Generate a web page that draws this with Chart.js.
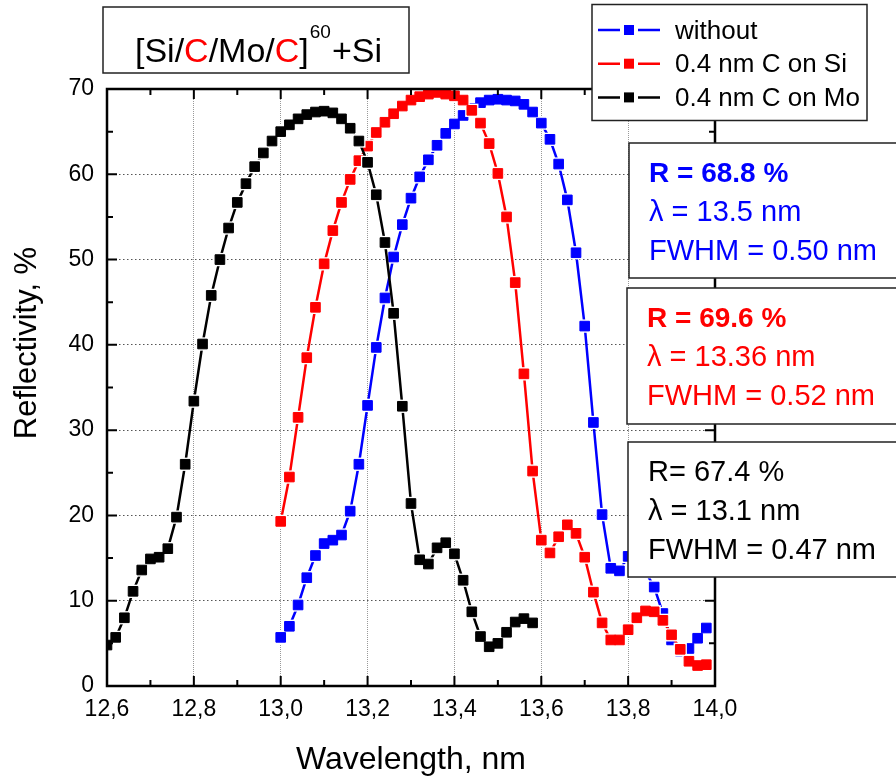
<!DOCTYPE html>
<html>
<head>
<meta charset="utf-8">
<script src="https://cdn.jsdelivr.net/npm/chart.js@4.4.1/dist/chart.umd.min.js"></script>
<style>
  html, body { margin: 0; padding: 0; background: #fff; }
  canvas { display: block; }
</style>
</head>
<body>
<canvas id="chart" width="896" height="780"></canvas>
<script>
// Wavelength grids, nm
const wlSi = [
  13.00, 13.02, 13.04, 13.06, 13.08, 13.10, 13.12, 13.14, 13.16, 13.18,
  13.20, 13.22, 13.24, 13.26, 13.28, 13.30, 13.32, 13.34, 13.36, 13.38,
  13.40, 13.42, 13.44, 13.46, 13.48, 13.50, 13.52, 13.54, 13.56, 13.58,
  13.60, 13.62, 13.64, 13.66, 13.68, 13.70, 13.72, 13.74, 13.76, 13.78,
  13.80, 13.82, 13.84, 13.86, 13.88, 13.90, 13.92, 13.94, 13.96, 13.98,
];
const wlMo = [
  12.60, 12.62, 12.64, 12.66, 12.68, 12.70, 12.72, 12.74, 12.76, 12.78,
  12.80, 12.82, 12.84, 12.86, 12.88, 12.90, 12.92, 12.94, 12.96, 12.98,
  13.00, 13.02, 13.04, 13.06, 13.08, 13.10, 13.12, 13.14, 13.16, 13.18,
  13.20, 13.22, 13.24, 13.26, 13.28, 13.30, 13.32, 13.34, 13.36, 13.38,
  13.40, 13.42, 13.44, 13.46, 13.48, 13.50, 13.52, 13.54, 13.56, 13.58,
];

// Reflectivity, %
const rWithout = [
  5.7, 7.0, 9.5, 12.7, 15.3, 16.7, 17.1, 17.7, 20.5, 26.0,
  32.9, 39.7, 45.5, 50.3, 54.1, 57.2, 59.7, 61.7, 63.4, 64.8,
  65.9, 66.9, 67.7, 68.4, 68.7, 68.8, 68.7, 68.6, 68.2, 67.3,
  66.0, 64.1, 61.2, 57.0, 50.8, 42.2, 30.9, 20.1, 13.8, 13.5,
  15.2, 14.6, 13.4, 11.6, 8.5, 5.4, 4.1, 4.4, 5.6, 6.8,
];
const rCOnSi = [
  19.3, 24.5, 31.5, 38.5, 44.4, 49.5, 53.4, 56.7, 59.4, 61.6,
  63.3, 64.9, 66.1, 67.1, 68.0, 68.7, 69.1, 69.4, 69.6, 69.4,
  69.2, 68.7, 67.5, 66.0, 63.6, 60.1, 55.0, 47.3, 36.6, 25.2,
  17.1, 15.6, 17.5, 18.9, 17.9, 15.1, 11.0, 7.4, 5.4, 5.4,
  6.6, 8.0, 8.8, 8.7, 7.7, 6.0, 4.3, 2.9, 2.4, 2.5,
];
const rCOnMo = [
  4.8, 5.7, 8.0, 11.1, 13.6, 14.9, 15.1, 16.1, 19.8, 26.0,
  33.4, 40.1, 45.8, 50.0, 53.7, 56.7, 58.9, 60.9, 62.5, 63.9,
  65.0, 65.8, 66.5, 67.0, 67.3, 67.4, 67.2, 66.5, 65.4, 63.9,
  61.4, 57.6, 52.0, 43.7, 32.8, 21.4, 14.8, 14.3, 16.2, 16.8,
  15.5, 12.4, 8.7, 5.8, 4.6, 5.0, 6.3, 7.5, 7.9, 7.4,
];

const BLUE = '#0000ff', RED = '#ff0000', BLACK = '#000000';
const FONT = '"Liberation Sans", Arial, sans-serif';

const series = [
  { name: 'without',        color: BLUE,  x: wlSi, y: rWithout },
  { name: '0.4 nm C on Si', color: RED,   x: wlSi, y: rCOnSi },
  { name: '0.4 nm C on Mo', color: BLACK, x: wlMo, y: rCOnMo },
];

// peak summaries shown in the boxes on the right
const stats = [
  { color: BLUE,  bold: true,  box: [629, 143, 270, 135], lines: ['R = 68.8 %', 'λ = 13.5 nm',  'FWHM = 0.50 nm'] },
  { color: RED,   bold: true,  box: [627, 288, 272, 136], lines: ['R = 69.6 %', 'λ = 13.36 nm', 'FWHM = 0.52 nm'] },
  { color: BLACK, bold: false, box: [628, 442, 271, 135], lines: ['R= 67.4 %',  'λ = 13.1 nm',  'FWHM = 0.47 nm'] },
];

// each curve = line, white halo (gap round the symbols), square symbols
const datasets = [];
series.forEach((s, i) => {
  const pts = s.x.map((x, k) => ({ x, y: s.y[k] }));
  const base = (series.length - 1 - i) * 3;
  datasets.push({ data: pts, order: base + 2, borderColor: s.color, borderWidth: 2.5, pointRadius: 0, fill: false });
  datasets.push({ data: pts, order: base + 1, showLine: false, pointStyle: 'rect', pointRadius: 9.4,
                  pointBackgroundColor: '#fff', pointBorderWidth: 0 });
  datasets.push({ data: pts, order: base, showLine: false, pointStyle: 'rect', pointRadius: 6.8,
                  pointBackgroundColor: s.color, pointBorderColor: s.color, pointBorderWidth: 1 });
});

function box(ctx, x, y, w, h) {
  ctx.fillStyle = '#fff';
  ctx.fillRect(x, y, w, h);
  ctx.strokeStyle = '#222';
  ctx.lineWidth = 1.5;
  ctx.strokeRect(x, y, w, h);
}

// closed frame with inward major/minor ticks on all four sides
const frame = {
  id: 'frame',
  afterDatasetsDraw(chart) {
    const { ctx, chartArea: a, scales: { x, y } } = chart;
    ctx.save();
    ctx.strokeStyle = '#000';
    ctx.lineWidth = 2;
    ctx.beginPath();
    const xv = x.ticks.map(t => t.value), yv = y.ticks.map(t => t.value);
    const xTick = (v, len) => {
      const p = x.getPixelForValue(v);
      ctx.moveTo(p, a.bottom); ctx.lineTo(p, a.bottom - len);
      ctx.moveTo(p, a.top); ctx.lineTo(p, a.top + len);
    };
    const yTick = (v, len) => {
      const p = y.getPixelForValue(v);
      ctx.moveTo(a.left, p); ctx.lineTo(a.left + len, p);
      ctx.moveTo(a.right, p); ctx.lineTo(a.right - len, p);
    };
    xv.forEach((v, i) => { xTick(v, 10); if (i < xv.length - 1) xTick((v + xv[i + 1]) / 2, 6); });
    yv.forEach((v, i) => { yTick(v, 10); if (i < yv.length - 1) yTick((v + yv[i + 1]) / 2, 6); });
    ctx.stroke();
    ctx.lineWidth = 2.5;
    ctx.strokeRect(a.left, a.top, a.right - a.left, a.bottom - a.top);
    ctx.restore();
  },
};

// title, legend, peak boxes and the y axis title
const overlays = {
  id: 'overlays',
  afterDraw(chart) {
    const ctx = chart.ctx;
    ctx.save();

    ctx.save();
    ctx.translate(27, 343);
    ctx.rotate(-Math.PI / 2);
    ctx.font = `31px ${FONT}`;
    ctx.fillStyle = '#000';
    ctx.textAlign = 'center';
    ctx.textBaseline = 'middle';
    ctx.fillText('Reflectivity, %', 0, 0);
    ctx.restore();

    ctx.textAlign = 'left';
    ctx.textBaseline = 'alphabetic';

    // structure title
    box(ctx, 103, 7, 306, 66);
    let tx = 135;
    ctx.font = `34px ${FONT}`;
    for (const [t, c] of [['[Si/', BLACK], ['C', RED], ['/Mo/', BLACK], ['C', RED], [']', BLACK]]) {
      ctx.fillStyle = c;
      ctx.fillText(t, tx, 62);
      tx += ctx.measureText(t).width;
    }
    ctx.fillStyle = BLACK;
    ctx.font = `19px ${FONT}`;
    ctx.fillText('60', tx + 1, 38);
    tx += ctx.measureText('60').width + 2;
    ctx.font = `34px ${FONT}`;
    ctx.fillText('+Si', tx, 62);

    // legend
    box(ctx, 592, 4.5, 275, 116);
    ctx.font = `26px ${FONT}`;
    series.forEach((s, i) => {
      const cy = 30 + i * 33.7;
      ctx.strokeStyle = s.color;
      ctx.lineWidth = 2.5;
      ctx.beginPath();
      ctx.moveTo(598, cy); ctx.lineTo(620, cy);
      ctx.moveTo(638, cy); ctx.lineTo(660, cy);
      ctx.stroke();
      ctx.fillStyle = s.color;
      ctx.fillRect(624, cy - 5, 10, 10);
      ctx.fillStyle = BLACK;
      ctx.fillText(s.name, 675, cy + 8.5);
    });

    // peak boxes
    stats.forEach(st => {
      const [bx, by, bw, bh] = st.box;
      box(ctx, bx, by, bw, bh);
      ctx.fillStyle = st.color;
      st.lines.forEach((t, k) => {
        ctx.font = (k === 0 && st.bold ? 'bold 28px ' : '29px ') + FONT;
        ctx.fillText(t, bx + 20, by + 39 + k * 39);
      });
    });

    ctx.restore();
  },
};

Chart.defaults.font.family = FONT;
Chart.defaults.color = '#000';

new Chart(document.getElementById('chart'), {
  type: 'line',
  data: { datasets },
  plugins: [frame, overlays],
  options: {
    responsive: false,
    animation: false,
    devicePixelRatio: 1,
    layout: { padding: { left: 0, top: 89, right: 181, bottom: 0 } },
    plugins: { legend: { display: false }, tooltip: { enabled: false } },
    scales: {
      x: {
        type: 'linear', min: 12.6, max: 14.0,
        afterFit: s => { s.height = 94; },
        grid: { color: '#999', drawTicks: false, lineWidth: 1 },
        border: { display: false, dash: [1, 1] },
        ticks: { stepSize: 0.2, autoSkip: false, maxRotation: 0, padding: 10,
                 font: { size: 23 }, callback: v => v.toFixed(1).replace('.', ',') },
        title: { display: true, text: 'Wavelength, nm', font: { size: 32 }, padding: { top: 0, bottom: 1 } },
      },
      y: {
        type: 'linear', min: 0, max: 70,
        afterFit: s => { s.width = 107; },
        grid: { color: '#555', drawTicks: false, lineWidth: 1 },
        border: { display: false, dash: [1.5, 2.5] },
        ticks: { stepSize: 10, padding: 13, font: { size: 23 } },
      },
    },
  },
});
</script>
</body>
</html>
